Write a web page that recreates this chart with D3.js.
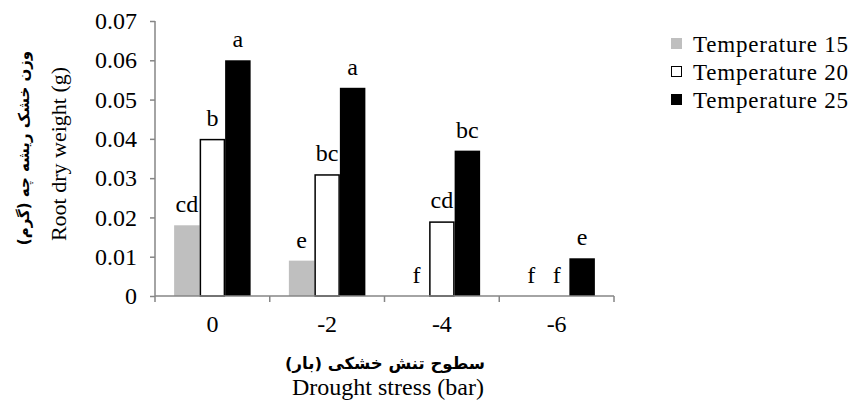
<!DOCTYPE html>
<html>
<head>
<meta charset="utf-8">
<title>Root dry weight</title>
<script src="https://d3js.org/d3.v7.min.js"></script>
<style>
  body { margin: 0; background: #fff; }
  svg text { font-family: "Liberation Serif", "Times New Roman", "DejaVu Serif", serif; }
  svg text.fa { font-family: "DejaVu Sans", sans-serif; font-weight: bold; }
</style>
</head>
<body>
<div id="chart"></div>
<script>
// data
let categories = ["0", "-2", "-4", "-6"];
let seriesNames = ["Temperature 15", "Temperature 20", "Temperature 25"];
let temp15 = [0.018, 0.009, 0, 0];
let temp20 = [0.040, 0.031, 0.019, 0];
let temp25 = [0.060, 0.053, 0.037, 0.0096];
let letters15 = ["cd", "e", "f", "f"];
let letters20 = ["b", "bc", "cd", "f"];
let letters25 = ["a", "a", "bc", "e"];
let yTicks = [0, 0.01, 0.02, 0.03, 0.04, 0.05, 0.06, 0.07];

let values = [temp15, temp20, temp25];
let letters = [letters15, letters20, letters25];
let fills = ["#bfbfbf", "#ffffff", "#000000"];

let margin = {top: 21, left: 155};
let W = 853, H = 408;
let w = 459;
let h = 275;

let svg = d3.select("#chart").append("svg")
    .attr("width", W).attr("height", H);

let g = svg.append("g")
    .attr("transform", "translate(" + margin.left + "," + margin.top + ")");

let x0 = d3.scaleBand().domain(categories).range([0, w]).paddingInner(0).paddingOuter(0);
let x1 = d3.scaleBand().domain([0, 1, 2]).range([0, x0.bandwidth()]).paddingInner(0).paddingOuter(0.75);
let y = d3.scaleLinear().domain([0, 0.07]).range([h, 0]);

// y axis
let yAxis = g.append("g")
    .call(d3.axisLeft(y).tickValues(yTicks).tickSize(5).tickPadding(13)
        .tickFormat(d => d === 0 ? "0" : d3.format(".2f")(d)));
yAxis.attr("font-family", null).attr("font-size", null);
yAxis.selectAll("line, path").attr("stroke", "#868686").attr("stroke-width", 1.5);
yAxis.select("path").attr("d", "M0," + h + "V0");
yAxis.selectAll("text").attr("fill", "#000").attr("font-size", 24);

// bars
categories.forEach(function(c, i) {
  values.forEach(function(s, k) {
    let v = s[i];
    let bx = x0(c) + x1(k);
    if (v > 0) {
      g.append("rect")
        .attr("x", bx + (k === 1 ? 0.75 : 0))
        .attr("y", y(v) + (k === 1 ? 0.75 : 0))
        .attr("width", x1.bandwidth() - (k === 1 ? 1.5 : 0))
        .attr("height", h - y(v) - (k === 1 ? 0.75 : 0))
        .attr("fill", fills[k])
        .attr("stroke", k === 1 ? "#000" : "none")
        .attr("stroke-width", 1.5);
    }
    g.append("text")
      .attr("x", bx + x1.bandwidth() / 2)
      .attr("y", y(v) - 13)
      .attr("text-anchor", "middle")
      .attr("font-size", 24)
      .text(letters[k][i]);
  });
});

// x axis
let xAxis = g.append("g")
    .attr("transform", "translate(0," + h + ")")
    .call(d3.axisBottom(x0).tickSize(0).tickPadding(19));
xAxis.attr("font-family", null).attr("font-size", null);
xAxis.select("path").attr("stroke", "#868686").attr("stroke-width", 1.5).attr("d", "M0,0H" + w);
xAxis.selectAll("text").attr("fill", "#000").attr("font-size", 24);
categories.map(c => x0(c)).concat([w]).forEach(function(px) {
  xAxis.append("line")
    .attr("x1", px).attr("x2", px)
    .attr("y1", 0).attr("y2", 6)
    .attr("stroke", "#868686").attr("stroke-width", 1.5);
});

// axis titles
svg.append("text")
    .attr("class", "fa")
    .attr("x", 385).attr("y", 369)
    .attr("text-anchor", "middle")
    .attr("font-size", 16.5)
    .text("سطوح تنش خشکی (بار)");
svg.append("text")
    .attr("x", 388).attr("y", 395)
    .attr("text-anchor", "middle")
    .attr("font-size", 24)
    .text("Drought stress (bar)");
svg.append("text")
    .attr("class", "fa")
    .attr("transform", "translate(29,148) rotate(-90)")
    .attr("text-anchor", "middle")
    .attr("font-size", 15)
    .text("وزن خشک ریشه چه (گرم)");
svg.append("text")
    .attr("transform", "translate(66,154) rotate(-90)")
    .attr("text-anchor", "middle")
    .attr("font-size", 22)
    .text("Root dry weight (g)");

// legend
let legend = svg.append("g").attr("transform", "translate(671,38)");
seriesNames.forEach(function(name, k) {
  let row = legend.append("g").attr("transform", "translate(0," + (k * 28) + ")");
  row.append("rect")
    .attr("x", k === 1 ? 0.5 : 0).attr("y", k === 1 ? 0.5 : 0)
    .attr("width", k === 1 ? 10 : 11).attr("height", k === 1 ? 10 : 11)
    .attr("fill", fills[k])
    .attr("stroke", k === 1 ? "#000" : "none");
  row.append("text")
    .attr("x", 22).attr("y", 14)
    .attr("font-size", 23)
    .attr("letter-spacing", 0.8)
    .text(name);
});
</script>
</body>
</html>
